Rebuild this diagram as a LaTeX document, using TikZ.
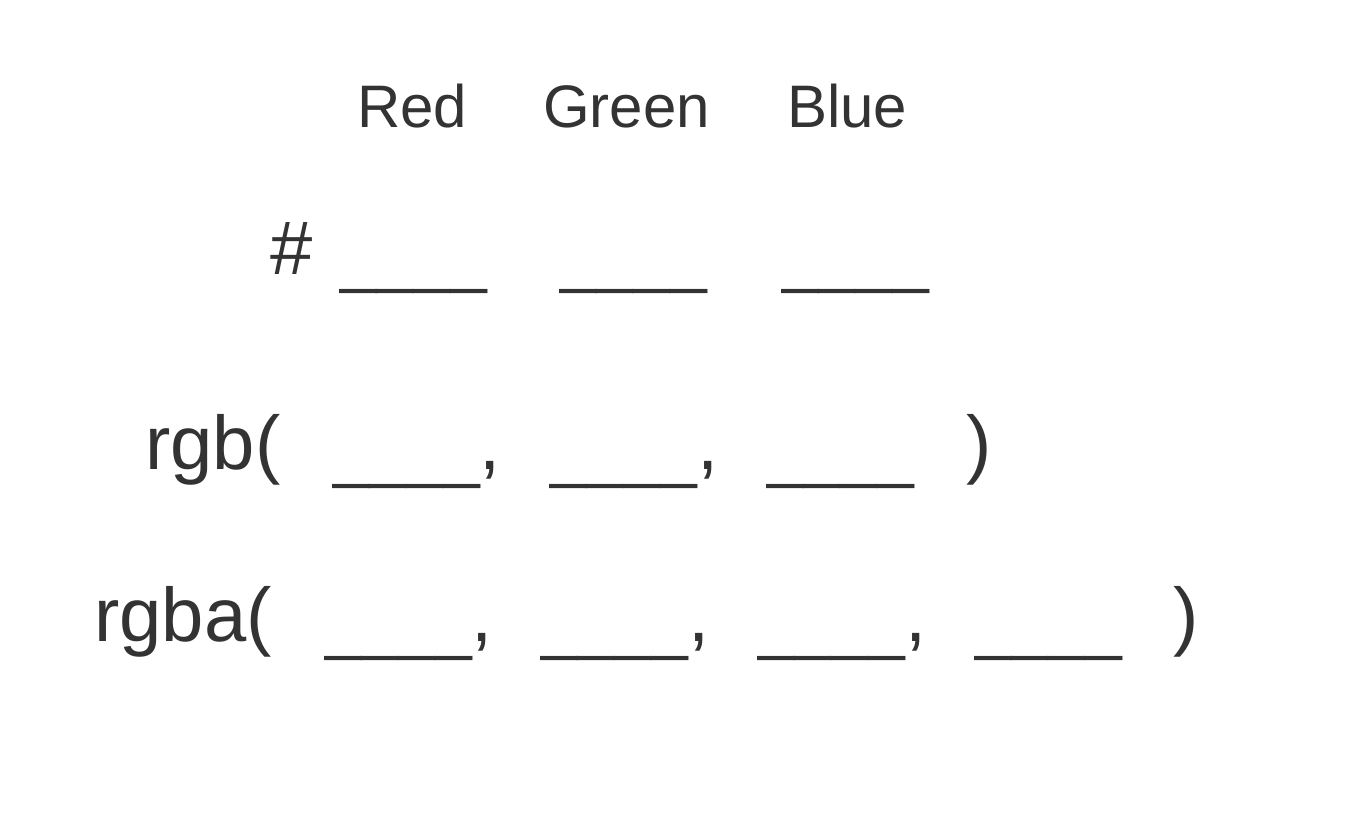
\documentclass[tikz,border=0pt]{standalone}
\usepackage{fontspec}
\setmainfont{Liberation Sans}
\definecolor{ink}{HTML}{333333}
\begin{document}
\begin{tikzpicture}[x=1pt,y=1pt,
  txt/.style={inner sep=0pt, anchor=base west, text=ink},
  head/.style={txt,font=\fontsize{60}{70}\selectfont},
  big/.style={txt,font=\fontsize{76}{90}\selectfont},
  blank/.style={txt,font=\fontsize{66}{80}\selectfont}]
\useasboundingbox (0,0) rectangle (1352,812);
% header row
\node[head] (red) at (357,684) {Red};
\node[head] (green) at (543,684) {Green};
\node[head] (blue) at (787,684) {Blue};
% hex row
\node[big] (hash) at (270,537) {\#};
\node[blank] (h1) at (340,531) {\_\_\_\_};
\node[blank] (h2) at (560,531) {\_\_\_\_};
\node[blank] (h3) at (782,531) {\_\_\_\_};
% rgb row
\node[big] (rgb) at (145,342) {rgb(};
\node[blank] (r1) at (333,336) {\_\_\_\_};
\node[big] (rc1) at (479,342) {,};
\node[blank] (r2) at (550,336) {\_\_\_\_};
\node[big] (rc2) at (697,342) {,};
\node[blank] (r3) at (767,336) {\_\_\_\_};
\node[big] (rp) at (966,342) {)};
% rgba row
\node[big] (rgba) at (94,171) {rgba(};
\node[blank] (a1) at (325,165) {\_\_\_\_};
\node[big] (ac1) at (471,171) {,};
\node[blank] (a2) at (541,165) {\_\_\_\_};
\node[big] (ac2) at (688,171) {,};
\node[blank] (a3) at (758,165) {\_\_\_\_};
\node[big] (ac3) at (905,171) {,};
\node[blank] (a4) at (975,165) {\_\_\_\_};
\node[big] (ap) at (1173,171) {)};
\end{tikzpicture}
\end{document}
